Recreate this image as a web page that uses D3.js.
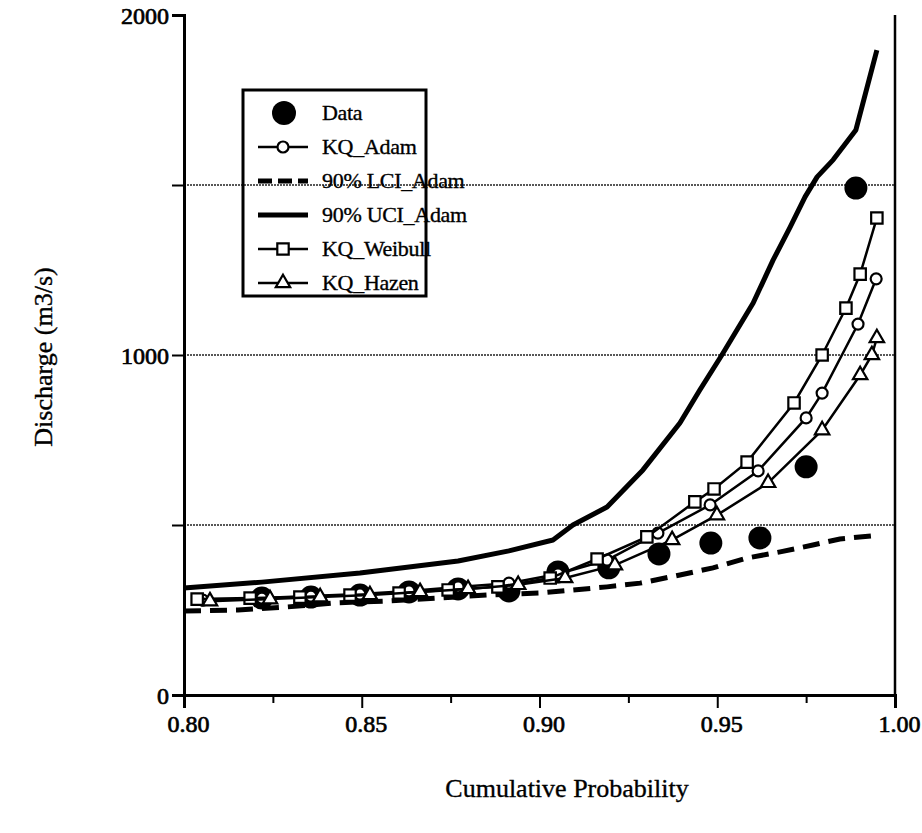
<!DOCTYPE html>
<html>
<head>
<meta charset="UTF-8">
<style>
  body{margin:0;background:#fff}
  svg{display:block;font-family:"Liberation Serif","Times New Roman",serif}
  svg text{stroke:#000;stroke-width:0.35px}
  svg .tick text{stroke-width:0.7px}
</style>
</head>
<body>
<div id="chart"></div>
<script src="https://d3js.org/d3.v7.min.js"></script>
<script>
// values
const dataP = [0.8219,0.8357,0.8495,0.8633,0.8771,0.8914,0.9052,0.9195,0.9336,0.9482,0.9620,0.9750,0.9890];
const dataQ = [285,288,294,303,312,306,362,374,415,447,462,671,1491];

const adamP = [0.8053,0.8219,0.8357,0.8495,0.8633,0.8771,0.8914,0.9052,0.9190,0.9333,0.9480,0.9615,0.9750,0.9795,0.9896,0.9947];
const adamQ = [279,285,291,297,306,318,329,356,397,476,559,659,815,888,1091,1224];

const lciP = [0.8000,0.8152,0.8290,0.8425,0.8560,0.8712,0.8852,0.9001,0.9190,0.9283,0.9395,0.9488,0.9584,0.9677,0.9769,0.9845,0.9935];
const lciQ = [247,250,259,271,276,285,294,300,318,329,353,374,403,421,441,459,468];

const uciP = [0.8000,0.8219,0.8495,0.8771,0.8914,0.9038,0.9094,0.9190,0.9291,0.9395,0.9451,0.9513,0.9601,0.9657,0.9705,0.9747,0.9781,0.9826,0.9890,0.9949];
const uciQ = [315,332,359,394,424,456,500,553,662,800,897,1000,1153,1279,1376,1465,1524,1574,1662,1897];

const weibP = [0.8037,0.8186,0.8326,0.8467,0.8605,0.8743,0.8883,0.9030,0.9162,0.9302,0.9437,0.9491,0.9584,0.9716,0.9795,0.9862,0.9902,0.9949];
const weibQ = [282,285,288,294,300,309,318,344,400,465,568,606,685,859,1000,1138,1238,1403];

const hazP = [0.8073,0.8242,0.8383,0.8523,0.8664,0.8799,0.8940,0.9072,0.9212,0.9373,0.9499,0.9643,0.9795,0.9902,0.9935,0.9949];
const hazQ = [276,282,288,294,303,312,324,344,382,456,529,624,779,941,1000,1050];

const xTicks = [0.80,0.85,0.90,0.95,1.00];
const xMinor = [0.825,0.875,0.925,0.975];
const yTicks = [0,500,1000,1500,2000];
const yLabels = [0,1000,2000];
const gridVals = [500,1000,1500];
const legendNames = ["Data","KQ_Adam","90% LCI_Adam","90% UCI_Adam","KQ_Weibull","KQ_Hazen"];

const W=922, H=833;
const FONT="Liberation Serif, Times New Roman, serif";
const svg=d3.select("#chart").append("svg").attr("width",W).attr("height",H);

const x=d3.scaleLinear().domain([0.8,1.0]).range([184,895]);
const y=d3.scaleLinear().domain([0,2000]).range([695,15]);

const zip=(P,Q)=>P.map((p,i)=>({p,q:Q[i]}));
const line=d3.line().x(d=>x(d.p)).y(d=>y(d.q));

/* grid lines */
svg.append("g").selectAll("line").data(gridVals).join("line")
   .attr("x1",x(0.8)).attr("x2",x(1.0))
   .attr("y1",d=>y(d)).attr("y2",d=>y(d))
   .attr("stroke","#222").attr("stroke-width",1.4)
   .attr("stroke-dasharray","2,1");

/* right border */
svg.append("line").attr("x1",x(1.0)).attr("x2",x(1.0))
   .attr("y1",y(2000)).attr("y2",y(0))
   .attr("stroke","#000").attr("stroke-width",2.5);

/* axes */
const xAxisG=svg.append("g").attr("transform",`translate(0,${y(0)})`)
   .call(d3.axisBottom(x).tickValues(xTicks).tickSize(13).tickPadding(5)
        .tickFormat(d3.format(".2f")));
svg.append("g").attr("transform",`translate(0,${y(0)})`)
   .call(d3.axisBottom(x).tickValues(xMinor).tickSize(8).tickFormat(""));
const yAxisG=svg.append("g").attr("transform",`translate(${x(0.8)},0)`)
   .call(d3.axisLeft(y).tickValues(yTicks).tickSize(12).tickPadding(3)
        .tickFormat(d=>yLabels.includes(d)?d:""));
svg.selectAll(".domain").attr("stroke","#000").attr("stroke-width",3);
svg.selectAll(".tick line").attr("stroke","#000").attr("stroke-width",2);
svg.selectAll(".tick text").style("font-family",FONT).style("font-size","24px");
yAxisG.selectAll(".tick text").attr("dy","0.35em");
xAxisG.selectAll(".tick text").attr("dy","0.8em").attr("dx",4);

/* axis titles */
svg.append("text").attr("x",567).attr("y",797).attr("text-anchor","middle")
   .style("font-size","26px").text("Cumulative Probability");
svg.append("text").attr("transform","translate(52,357) rotate(-90)")
   .attr("text-anchor","middle").style("font-size","26px").text("Discharge (m3/s)");

/* data points */
svg.append("g").selectAll("circle").data(zip(dataP,dataQ)).join("circle")
   .attr("cx",d=>x(d.p)).attr("cy",d=>y(d.q)).attr("r",11.5).attr("fill","#000");

/* confidence intervals */
svg.append("path").datum(zip(lciP,lciQ)).attr("d",line)
   .attr("fill","none").attr("stroke","#000").attr("stroke-width",5)
   .attr("stroke-dasharray","17,9");
svg.append("path").datum(zip(uciP,uciQ)).attr("d",line)
   .attr("fill","none").attr("stroke","#000").attr("stroke-width",5)
   .attr("stroke-linejoin","round");

/* KQ series */
const sym={
  circle:d3.symbol().type(d3.symbolCircle).size(95),
  square:d3.symbol().type(d3.symbolSquare).size(130),
  triangle:d3.symbol().type(d3.symbolTriangle).size(90)
};
function kq(P,Q,shape){
  const pts=zip(P,Q);
  svg.append("path").datum(pts).attr("d",line)
     .attr("fill","none").attr("stroke","#000").attr("stroke-width",2.5);
  svg.append("g").selectAll("path").data(pts).join("path")
     .attr("transform",d=>`translate(${x(d.p)},${y(d.q)})`)
     .attr("d",sym[shape]()).attr("fill","#fff").attr("stroke","#000").attr("stroke-width",2.2);
}
kq(adamP,adamQ,"circle");
kq(weibP,weibQ,"square");
kq(hazP,hazQ,"triangle");

/* legend */
const lg=svg.append("g");
lg.append("rect").attr("x",243).attr("y",90).attr("width",183).attr("height",206)
  .attr("fill","none").attr("stroke","#000").attr("stroke-width",3);
const row=i=>113+i*34;
lg.selectAll("text").data(legendNames).join("text")
  .attr("x",322).attr("y",(d,i)=>row(i)+7).style("font-size","22px")
  .style("letter-spacing","-0.3px").text(d=>d);
lg.append("circle").attr("cx",284).attr("cy",row(0)).attr("r",12).attr("fill","#000");
[[1,"circle"],[4,"square"],[5,"triangle"]].forEach(([i,s])=>{
  lg.append("line").attr("x1",258).attr("x2",308).attr("y1",row(i)).attr("y2",row(i))
    .attr("stroke","#000").attr("stroke-width",2.5);
  lg.append("path").attr("transform",`translate(283,${row(i)})`).attr("d",sym[s]())
    .attr("fill","#fff").attr("stroke","#000").attr("stroke-width",2.2);
});
lg.append("line").attr("x1",258).attr("x2",308).attr("y1",row(2)).attr("y2",row(2))
  .attr("stroke","#000").attr("stroke-width",5).attr("stroke-dasharray","14,6");
lg.append("line").attr("x1",258).attr("x2",308).attr("y1",row(3)).attr("y2",row(3))
  .attr("stroke","#000").attr("stroke-width",5);
</script>
</body>
</html>
